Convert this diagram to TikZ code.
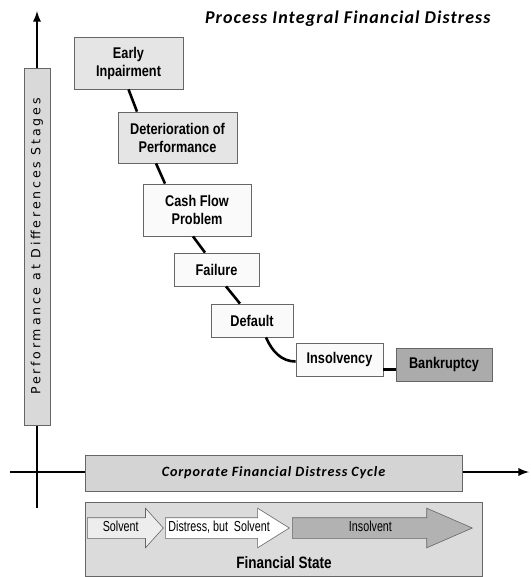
\documentclass[tikz,border=0pt]{standalone}
\usepackage{fontspec}
\usepackage{tikz}
\usetikzlibrary{arrows,shapes.arrows}
\newfontfamily\narrowfont[FakeStretch=0.82]{Liberation Sans}
\newfontfamily\thinfont[FakeStretch=0.74]{Liberation Sans}
\newfontfamily\titlefont[LetterSpace=6]{Carlito}
\newfontfamily\cyclefont[LetterSpace=6]{Carlito}
\newfontfamily\axisfont[LetterSpace=22]{DejaVu Sans}

\begin{document}
\begin{tikzpicture}[x=1pt,y=-1pt,
    stage/.style={draw=black!60, line width=0.8pt, fill=#1, align=center, inner sep=0pt,
      font=\narrowfont\bfseries\fontsize{15.5}{18}\selectfont},
    link/.style={line width=2.6pt},
    axis/.style={line width=2.6pt, ->, >=latex},
    panel/.style={draw=black!60, line width=0.8pt, fill=#1, inner sep=0pt},
    state/.style={draw=black!60, line width=0.6pt, fill=#1, single arrow, anchor=tail,
      single arrow head extend=9.5pt, text height=10pt, text depth=3pt, inner ysep=3.5pt,
      inner xsep=2pt, font=\thinfont\fontsize{14.5}{16}\selectfont}
  ]
    \useasboundingbox (0,0) rectangle (530,577);

    % axes
    \coordinate (ytop) at (37,11);
    \coordinate (ybot) at (37,508);
    \coordinate (xleft) at (10,472);
    \coordinate (xright) at (529,472);
    \draw[axis] (ybot) -- (ytop);
    \draw[axis] (xleft) -- (xright);

    \node[panel=black!15, minimum width=357pt, minimum height=26pt, rotate=90,
      font=\axisfont\fontsize{12.6}{14}\selectfont] (perf) at (37,246.5)
      {Performance at Differences Stages};
    \node[panel=black!17, minimum width=377pt, minimum height=36pt,
      font=\cyclefont\bfseries\itshape\fontsize{14.2}{16}\selectfont] (cycle) at (273.5,473)
      {Corporate Financial Distress Cycle};

    \node[font=\titlefont\bfseries\itshape\fontsize{18}{20}\selectfont, anchor=east] (title) at (494,19)
      {Process Integral Financial Distress};

    % stages
    \node[stage=black!10, minimum width=109pt, minimum height=52pt] (early) at (128.5,63) {Early\\Inpairment};
    \node[stage=black!10, minimum width=119pt, minimum height=51pt] (deter) at (177.5,137.5) {Deterioration of\\Performance};
    \node[stage=black!2, minimum width=108pt, minimum height=52pt] (cash) at (197,210) {Cash Flow\\Problem};
    \node[stage=black!2, minimum width=85pt, minimum height=33pt] (fail) at (216.5,269.5) {Failure};
    \node[stage=black!2, minimum width=82pt, minimum height=33pt] (default) at (252,320.5) {Default};
    \node[stage=black!2, minimum width=87pt, minimum height=33pt] (insolv) at (339.5,359.5) {Insolvency};
    \node[stage=black!33, minimum width=96pt, minimum height=33pt] (bankr) at (444,364.5) {Bankruptcy};

    \draw[link] (early.south) -- ([xshift=-40.5pt]deter.north);
    \draw[link] ([xshift=-21.5pt]deter.south) -- ([xshift=-32pt]cash.north);
    \draw[link] ([xshift=-4pt]cash.south) -- ([xshift=-11.5pt]fail.north);
    \draw[link] ([xshift=9.5pt]fail.south) -- ([xshift=-12pt]default.north);
    \draw[link] ([xshift=14pt]default.south) .. controls +(6,14) and +(-14,0) .. ([yshift=-2pt]insolv.west);
    \draw[link] ([yshift=-10pt]insolv.east) -- ([yshift=-10pt]insolv.east -| bankr.west);

    % financial state
    \node[panel=black!14, minimum width=397pt, minimum height=74pt] (fstate) at (283.5,539.5) {};
    \node[font=\narrowfont\bfseries\fontsize{16.5}{18}\selectfont] (fslabel) at (284,563) {Financial State};
    \node[state=black!7, minimum height=76pt, minimum width=39pt, single arrow tip angle=96] (solv) at (87,528) {Solvent};
    \node[state=white, minimum height=124pt, minimum width=39pt, single arrow tip angle=64] (dist) at (165,528) {Distress, but\ \ Solvent};
    \node[state=black!30, minimum height=180pt, minimum width=39pt, single arrow tip angle=47] (insol) at (292,528) {Insolvent};
  \end{tikzpicture}
\end{document}
